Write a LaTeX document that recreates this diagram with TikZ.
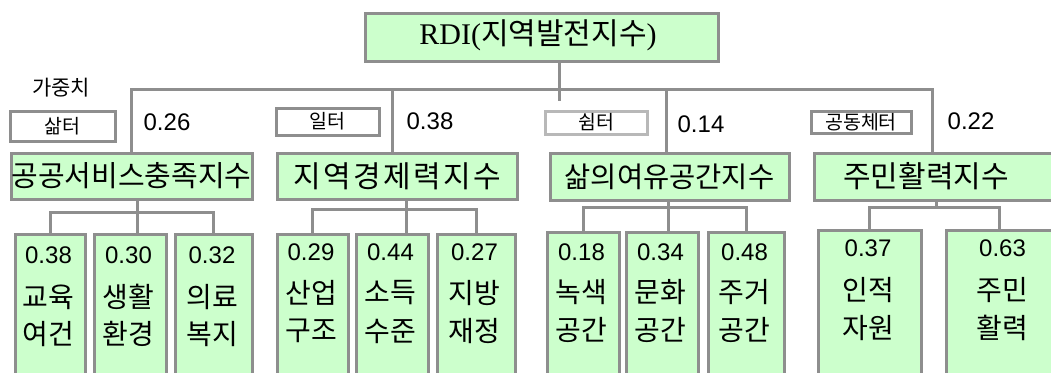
\documentclass[tikz,border=0pt]{standalone}
\usepackage{fontspec}
\setmainfont{Liberation Sans}
\newfontfamily\kr{Noto Sans CJK KR}
\newfontfamily\krs[LetterSpace=8]{Noto Sans CJK KR}
\newfontfamily\rdi{Liberation Serif}
\definecolor{bord}{HTML}{8E8E8E}
\definecolor{bordl}{HTML}{B8B8B8}
\definecolor{grn}{HTML}{CCFFCC}
\tikzset{
  gbox/.style={draw=bord, fill=grn, line width=3pt, inner sep=0pt, anchor=north west, rectangle},
  wbox/.style={draw=bord, fill=white, line width=3pt, inner sep=0pt, anchor=north west, rectangle,
               font=\kr\fontsize{19.5}{19.5}\selectfont},
  conn/.style={draw=bord, line width=3pt},
  numt/.style={inner sep=0pt, font=\fontsize{24}{24}\selectfont},
  lt/.style={inner sep=0pt, font=\kr\fontsize{28}{28}\selectfont},
}
\newcommand\ny{0}\newcommand\lya{0}\newcommand\lyb{0}
\newcommand\leaf[7]{%
  \node[gbox, minimum width={#3-#2-3}, minimum height=160] (#1) at ({#2+1.5},{#4+1.5}) {};
  \node[numt] (#1n) at ({(#2+#3)/2},\ny) {#5};
  \node[lt] (#1a) at ({(#2+#3)/2},\lya) {#6};
  \node[lt] (#1b) at ({(#2+#3)/2},\lyb) {#7};
}
\begin{document}
\begin{tikzpicture}[x=1pt,y=-1pt]
\useasboundingbox (0,0) rectangle (1051,372);
\fill[white] (0,0) rectangle (1051,372);
\clip (0,0) rectangle (1051,372);

% root
\node[gbox, minimum width=353, minimum height=48] (root) at (363.5,11.5) {};
\node[inner sep=0pt, font=\fontsize{30}{30}\selectfont] (roott) at (538,35)
  {\rdi RDI(\kr 지역발전지수\rdi )};

% level 2
\node[gbox, minimum width=241, minimum height=46, font=\kr\fontsize{29}{29}\selectfont] (A) at (9.5,151.5) {공공서비스충족지수};
\node[gbox, minimum width=240, minimum height=46, font=\krs\fontsize{30}{30}\selectfont] (B) at (275.5,151.5) {지역경제력지수};
\node[gbox, minimum width=239, minimum height=47, font=\kr\fontsize{28.5}{28.5}\selectfont] (C) at (548.5,151.5) {삶의여유공간지수};
\node[gbox, minimum width=250, minimum height=47] (D) at (812.5,151.5) {};
\node[inner sep=0pt, font=\kr\fontsize{30}{30}\selectfont] (Dt) at (926,176) {주민활력지수};

% weight boxes
\node[inner sep=0pt, font=\kr\fontsize{21}{21}\selectfont] (gz) at (61,88) {가중치};
\node[wbox, minimum width=105, minimum height=30] (wA) at (8.5,109.5) {삶터};
\node[wbox, minimum width=103, minimum height=27] (wB) at (274.5,106.5) {일터};
\node[wbox, draw=bordl, minimum width=102, minimum height=23] (wC) at (543.5,109.5) {쉼터};
\node[wbox, minimum width=100, minimum height=22] (wD) at (809.5,109.5) {공동체터};

\node[numt] (vA) at (167,122) {0.26};
\node[numt] (vB) at (430,121) {0.38};
\node[numt] (vC) at (701,124) {0.14};
\node[numt] (vD) at (971,121) {0.22};

% leaves
\renewcommand\ny{255}\renewcommand\lya{297}\renewcommand\lyb{334}
\leaf{l11}{12}{85}{231}{0.38}{교육}{여건}
\leaf{l12}{91}{166}{231}{0.30}{생활}{환경}
\leaf{l13}{172}{252}{231}{0.32}{의료}{복지}
\renewcommand\ny{252}\renewcommand\lya{293}\renewcommand\lyb{331}
\leaf{l21}{274}{348}{231}{0.29}{산업}{구조}
\leaf{l22}{353}{428}{231}{0.44}{소득}{수준}
\leaf{l23}{434}{515}{231}{0.27}{지방}{재정}
\renewcommand\ny{252}\renewcommand\lya{292}\renewcommand\lyb{330}
\leaf{l31}{544}{619}{229}{0.18}{녹색}{공간}
\leaf{l32}{623}{698}{229}{0.34}{문화}{공간}
\leaf{l33}{705}{784}{229}{0.48}{주거}{공간}
\renewcommand\ny{248}\renewcommand\lya{290}\renewcommand\lyb{328}
\leaf{l41}{815}{921}{227}{0.37}{인적}{자원}
\leaf{l42}{943}{1062}{227}{0.63}{주민}{활력}

% connectors top level
\coordinate (rv) at (559,101);
\coordinate (bL) at (131,89);
\coordinate (b2) at (392,89);
\coordinate (b3) at (666,89);
\coordinate (bR) at (932,89);
\draw[conn] (rv |- root.south) -- (rv);
\draw[conn] (bL |- A.north) -- (bL) -- (bR) -- (bR |- D.north);
\draw[conn] (b2) -- (b2 |- B.north);
\draw[conn] (b3) -- (b3 |- C.north);

% group connectors
\coordinate (g1) at (137,212);
\draw[conn] (l11.north) -- (l11.north |- g1) -- (l13.north |- g1) -- (l13.north);
\draw[conn] (g1 |- A.south) -- (g1 |- l12.north);
\coordinate (g2) at (406,209);
\draw[conn] (l21.north) -- (l21.north |- g2) -- (l23.north |- g2) -- (l23.north);
\draw[conn] (g2 |- B.south) -- (g2 |- l22.north);
\coordinate (g3) at (668,207);
\draw[conn] (l31.north) -- (l31.north |- g3) -- (l33.north |- g3) -- (l33.north);
\draw[conn] (g3 |- C.south) -- (g3 |- l32.north);
\coordinate (g4) at (936,207);
\coordinate (g4r) at (999,207);
\draw[conn] (l41.north) -- (l41.north |- g4) -- (g4r) -- (g4r |- l42.north);
\draw[conn] (g4 |- D.south) -- (g4);
\end{tikzpicture}
\end{document}
